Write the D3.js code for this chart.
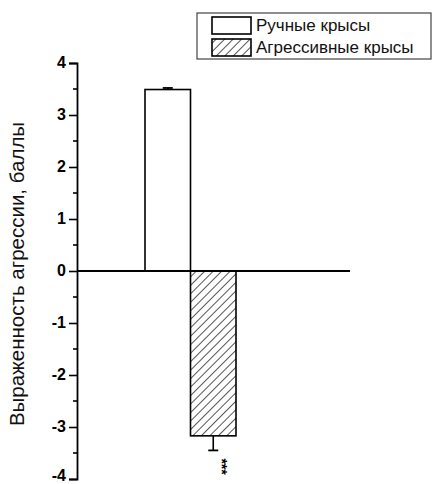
<!DOCTYPE html>
<html>
<head>
<meta charset="utf-8">
<script src="https://cdn.jsdelivr.net/npm/d3@7"></script>
<style>
  html, body { margin: 0; padding: 0; background: #fff; }
  svg { display: block; }
</style>
</head>
<body>
<script>
// Group labels, mean scores and standard errors
const groups = ["Ручные крысы", "Агрессивные крысы"];
const means = [3.49, -3.17];
const errors = [0.03, 0.28];
const marks = ["", "***"];
const yTicks = [-4, -3, -2, -1, 0, 1, 2, 3, 4];
const yTitle = "Выраженность агрессии, баллы";

const W = 433, H = 484;
const svg = d3.select("body").append("svg").attr("width", W).attr("height", H);
const font = "Liberation Sans, Arial, sans-serif";

// hatch for the second group
const defs = svg.append("defs");
const pat = defs.append("pattern")
  .attr("id", "hatch").attr("patternUnits", "userSpaceOnUse")
  .attr("width", 6).attr("height", 6)
  .attr("patternTransform", "rotate(45)");
pat.append("rect").attr("width", 6).attr("height", 6).attr("fill", "#fff");
pat.append("line").attr("x1", 0.5).attr("y1", 0).attr("x2", 0.5).attr("y2", 6)
  .attr("stroke", "#555").attr("stroke-width", 1);

const axisX = 77, zeroEnd = 350;
const y = d3.scaleLinear().domain([-4, 4]).range([479, 63]);
const x = d3.scaleBand().domain(groups).range([145, 236]).padding(0);
const fills = ["#fff", "url(#hatch)"];

// bars
svg.selectAll("rect.bar").data(groups).enter().append("rect")
  .attr("class", "bar")
  .attr("x", d => x(d))
  .attr("width", x.bandwidth())
  .attr("y", (d, i) => y(Math.max(0, means[i])))
  .attr("height", (d, i) => Math.abs(y(means[i]) - y(0)))
  .attr("fill", (d, i) => fills[i])
  .attr("stroke", "#000").attr("stroke-width", 1.6);

// error bars (outward from bar end)
groups.forEach((g, i) => {
  const cx = x(g) + x.bandwidth() / 2;
  const end = means[i] + Math.sign(means[i]) * errors[i];
  svg.append("line").attr("x1", cx).attr("x2", cx)
    .attr("y1", y(means[i])).attr("y2", y(end))
    .attr("stroke", "#000").attr("stroke-width", 1.6);
  svg.append("line").attr("x1", cx - 5).attr("x2", cx + 5)
    .attr("y1", y(end)).attr("y2", y(end))
    .attr("stroke", "#000").attr("stroke-width", 1.8);
  if (marks[i]) {
    svg.append("text")
      .attr("transform", `translate(${cx + 4},${y(end) + 8}) rotate(90)`)
      .attr("font-family", font)
      .attr("font-size", 14).attr("font-weight", "bold").attr("fill", "#000")
      .text(marks[i]);
  }
});

// zero line
svg.append("line").attr("x1", axisX).attr("x2", zeroEnd)
  .attr("y1", y(0)).attr("y2", y(0))
  .attr("stroke", "#000").attr("stroke-width", 1.8);

// y axis with major and minor ticks
const yAxis = svg.append("g").attr("transform", `translate(${axisX},0)`)
  .call(d3.axisLeft(y).tickValues(yTicks).tickSize(8).tickPadding(3).tickFormat(d => String(d)));
yAxis.select(".domain").attr("stroke", "#000").attr("stroke-width", 1.8);
yAxis.selectAll(".tick line").attr("stroke", "#000").attr("stroke-width", 1.6);
yAxis.selectAll(".tick text")
  .attr("font-family", font)
  .attr("font-size", 16).attr("font-weight", "bold").attr("fill", "#000")
  .attr("dy", d => d === yTicks[0] ? "0.1em" : "0.3em");
const minor = d3.range(-3.5, 4, 1);
svg.append("g").attr("transform", `translate(${axisX},0)`)
  .selectAll("line").data(minor).enter().append("line")
  .attr("x1", -4).attr("x2", 0)
  .attr("y1", d => y(d)).attr("y2", d => y(d))
  .attr("stroke", "#000").attr("stroke-width", 1.6);

// y title
svg.append("text")
  .attr("transform", `translate(24,274) rotate(-90)`)
  .attr("text-anchor", "middle")
  .attr("font-family", font)
  .attr("font-size", 20.5).attr("fill", "#111")
  .text(yTitle);

// legend
const lg = svg.append("g");
lg.append("rect").attr("x", 197).attr("y", 13).attr("width", 234).attr("height", 46)
  .attr("fill", "#fff").attr("stroke", "#444").attr("stroke-width", 1.2);
groups.forEach((g, i) => {
  const ry = 17 + i * 22;
  lg.append("rect").attr("x", 212).attr("y", ry).attr("width", 39).attr("height", 17)
    .attr("fill", fills[i]).attr("stroke", "#000").attr("stroke-width", 1.6);
  lg.append("text").attr("x", 256).attr("y", ry + 14)
    .attr("font-family", font)
    .attr("font-size", 17).attr("fill", "#111")
    .text(g);
});
</script>
</body>
</html>
